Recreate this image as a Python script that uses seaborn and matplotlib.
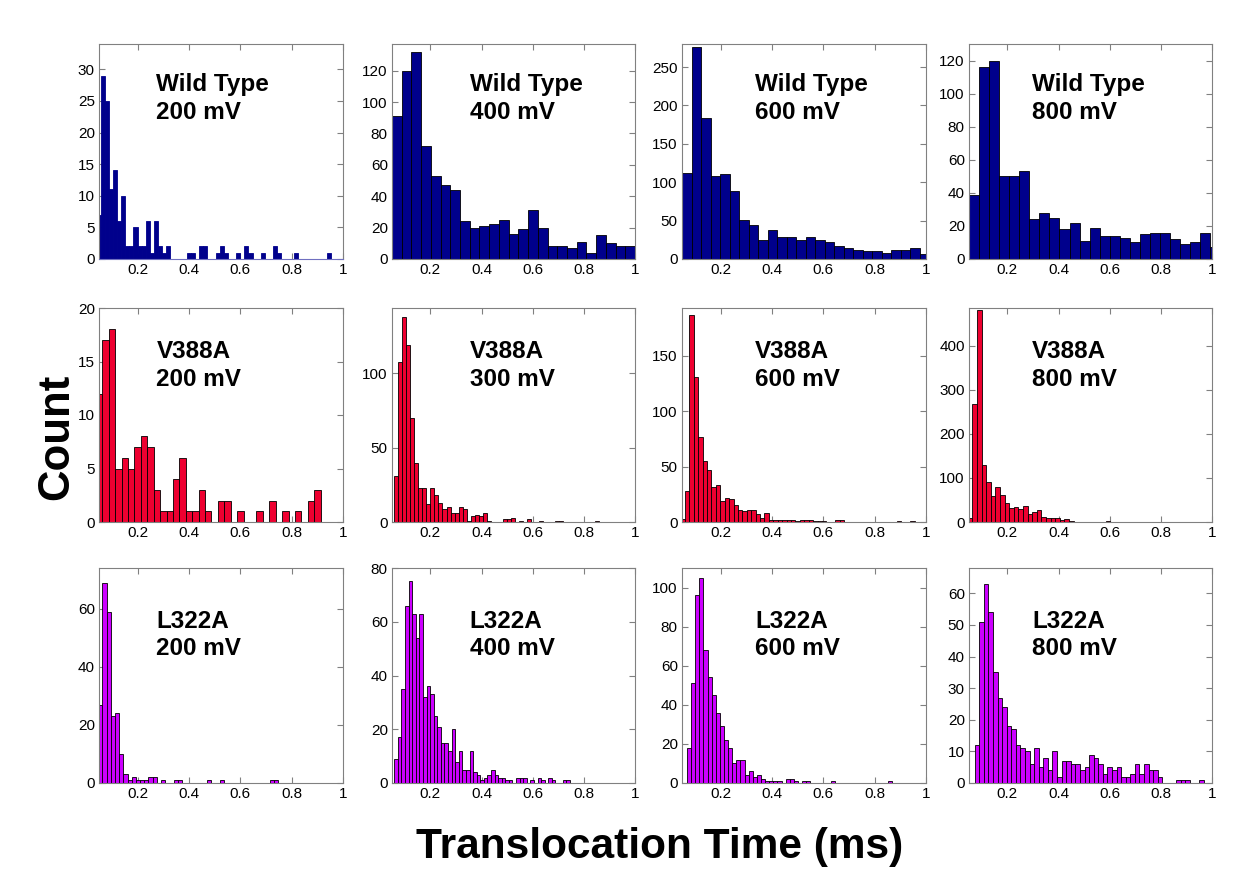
import numpy as np
import pandas as pd
import matplotlib
matplotlib.use("Agg")
import matplotlib.pyplot as plt
import seaborn as sns

# bin counts (left to right), with bin start / width in ms
wt_200 = [7, 29, 25, 11, 14, 6, 10, 2, 2, 5, 2, 2, 6, 1, 6, 2, 1, 2, 0, 0,
          0, 0, 1, 1, 0, 2, 2, 0, 0, 1, 2, 1, 0, 0, 1, 0, 2, 1, 0, 0,
          1, 0, 0, 2, 1, 0, 0, 0, 1, 0, 0, 0, 0, 0, 0, 0, 1, 0, 0, 0]
wt_400 = [91, 120, 132, 72, 53, 47, 44, 24, 20, 21, 22, 25, 16, 19, 31, 20, 8, 8, 7, 11,
          4, 15, 10, 8, 8]
wt_600 = [112, 276, 184, 108, 111, 89, 51, 44, 25, 38, 29, 29, 25, 29, 25, 22, 17, 14, 12, 10,
          11, 8, 12, 12, 14, 7]
wt_800 = [39, 116, 120, 50, 50, 53, 24, 28, 25, 18, 22, 11, 19, 14, 14, 13, 10, 15, 16, 16,
          12, 9, 10, 16, 7]

v388a_200 = [12, 17, 18, 5, 6, 5, 7, 8, 7, 3, 1, 1, 4, 6, 1, 1, 3, 1, 0, 2,
             2, 0, 1, 0, 0, 1, 0, 2, 0, 1, 0, 1, 0, 2, 3]
v388a_300 = [31, 108, 138, 119, 70, 40, 23, 23, 12, 23, 18, 13, 9, 10, 6, 6, 10, 9, 1, 4,
             5, 4, 6, 1, 0, 0, 0, 2, 2, 3, 0, 1, 0, 2, 0, 0, 1, 0, 0, 0,
             1, 1, 0, 0, 0, 0, 0, 0, 0, 0, 1]
v388a_600 = [3, 28, 187, 131, 77, 55, 47, 32, 33, 19, 22, 21, 15, 11, 10, 11, 11, 7, 4, 8,
             2, 2, 2, 2, 2, 2, 1, 2, 2, 2, 1, 1, 1, 0, 0, 2, 2, 0, 0, 0,
             0, 0, 0, 0, 0, 0, 0, 0, 0, 1, 0, 0, 1]
v388a_800 = [8, 268, 480, 130, 91, 60, 80, 61, 44, 32, 33, 30, 36, 19, 23, 27, 12, 10, 8, 10,
             4, 6, 3, 1, 1, 1, 1, 0, 0, 0, 2, 0, 0, 0, 0, 0, 0, 0, 0, 0,
             0, 0, 0, 0, 0, 0, 0, 0, 1]

l322a_200 = [27, 69, 59, 23, 24, 10, 3, 1, 2, 1, 1, 1, 2, 2, 0, 1, 0, 0, 1, 1,
             0, 0, 0, 0, 0, 0, 1, 0, 0, 1, 0, 0, 0, 0, 0, 0, 0, 0, 0, 0,
             0, 1, 1]
l322a_400 = [9, 17, 35, 66, 75, 63, 54, 63, 32, 36, 33, 25, 21, 15, 15, 12, 20, 8, 12, 5,
             5, 12, 4, 3, 1, 2, 3, 5, 3, 2, 2, 1, 1, 0, 2, 2, 2, 0, 1, 0,
             2, 1, 0, 2, 1, 0, 0, 1, 1]
l322a_600 = [18, 51, 96, 105, 68, 54, 45, 36, 29, 22, 18, 10, 12, 12, 4, 6, 3, 4, 2, 1,
             1, 1, 1, 0, 2, 2, 1, 0, 1, 1, 0, 0, 0, 0, 0, 1, 0, 0, 0, 0,
             0, 0, 0, 0, 0, 0, 0, 0, 0, 1]
l322a_800 = [12, 51, 63, 54, 35, 27, 24, 18, 17, 12, 11, 10, 6, 11, 5, 8, 4, 10, 2, 7,
             7, 6, 6, 4, 5, 9, 8, 6, 3, 5, 4, 5, 2, 2, 3, 6, 3, 6, 4, 4,
             2, 0, 0, 0, 1, 1, 1, 0, 0, 1]

bin_start = [[0.040, 0.050, 0.050, 0.050],
             [0.038, 0.059, 0.0444, 0.045],
             [0.047, 0.059, 0.0695, 0.072]]
bin_width = [[0.016, 0.038, 0.037, 0.0393],
             [0.025, 0.0157, 0.0172, 0.018],
             [0.0163, 0.014, 0.016, 0.0179]]

mutants = ["Wild Type", "V388A", "L322A"]
voltages = [["200 mV", "400 mV", "600 mV", "800 mV"],
            ["200 mV", "300 mV", "600 mV", "800 mV"],
            ["200 mV", "400 mV", "600 mV", "800 mV"]]
counts = [[wt_200, wt_400, wt_600, wt_800],
          [v388a_200, v388a_300, v388a_600, v388a_800],
          [l322a_200, l322a_400, l322a_600, l322a_800]]
y_max = [[34, 137, 280, 130], [20, 144, 193, 485], [74, 80, 110, 68]]
y_step = [[5, 20, 50, 20], [5, 50, 50, 100], [20, 20, 20, 10]]
x_ticks = [0.2, 0.4, 0.6, 0.8, 1.0]
x_tick_labels = ["0.2", "0.4", "0.6", "0.8", "1"]

colors = ["#00008C", "#EE0030", "#CC00FF"]

sns.set_style("white")
plt.rcParams['font.family'] = ['Liberation Sans', 'DejaVu Sans']
plt.rcParams['text.color'] = 'black'

W, H = 1245, 875
fig = plt.figure(figsize=(W / 100, H / 100), dpi=100)

col_px = [(99, 343), (392, 635), (682, 926), (969, 1212)]
row_px = [(44, 259), (308, 522), (568, 783)]
text_x = [0.235, 0.32, 0.30, 0.26]
text_y = [0.865, 0.85, 0.805]

for r in range(3):
    for c in range(4):
        x0, x1 = col_px[c]
        y0, y1 = row_px[r]
        ax = fig.add_axes([x0 / W, 1 - y1 / H, (x1 - x0) / W, (y1 - y0) / H])
        n = [float(v) for v in counts[r][c]]
        edges = [bin_start[r][c] + bin_width[r][c] * k for k in range(len(n) + 1)]
        df = pd.DataFrame({"t": [e + bin_width[r][c] / 2 for e in edges[:-1]], "n": n})
        edge_col = colors[0] if (r == 0 and c == 0) else "black"
        sns.histplot(data=df, x="t", weights="n", bins=edges, ax=ax, color=colors[r],
                     edgecolor=edge_col, linewidth=0.6, alpha=1)
        ax.set_xlim(0.05, 1.0)
        ax.set_ylim(0, y_max[r][c])
        ax.set_xticks(x_ticks)
        ax.set_xticklabels(x_tick_labels)
        ax.set_yticks(np.arange(0, y_max[r][c] + 0.1, y_step[r][c]))
        ax.set_xlabel("")
        ax.set_ylabel("")
        for s in ax.spines.values():
            s.set_color("#808080")
            s.set_linewidth(0.8)
            s.set_visible(True)
        if r == 0 and c == 0:
            ax.spines["bottom"].set_color("#7070C0")
        ax.tick_params(direction="in", length=4, width=0.8, color="#808080",
                       labelsize=11, labelcolor="black", top=True, right=True,
                       bottom=True, left=True, pad=3)
        ax.text(text_x[c], text_y[r], mutants[r] + "\n" + voltages[r][c],
                transform=ax.transAxes, ha="left", va="top", fontsize=17.5,
                fontweight="bold", linespacing=1.25, color="black")

fig.text(56.5 / W, 1 - 437 / H, "Count", rotation=90, ha="center", va="center",
         fontsize=31.5, fontweight="bold", color="black")
fig.text(660 / W, 1 - 847 / H, "Translocation Time (ms)", ha="center", va="center",
         fontsize=30.5, fontweight="bold", color="black")

fig.savefig("out.png", dpi=100)
